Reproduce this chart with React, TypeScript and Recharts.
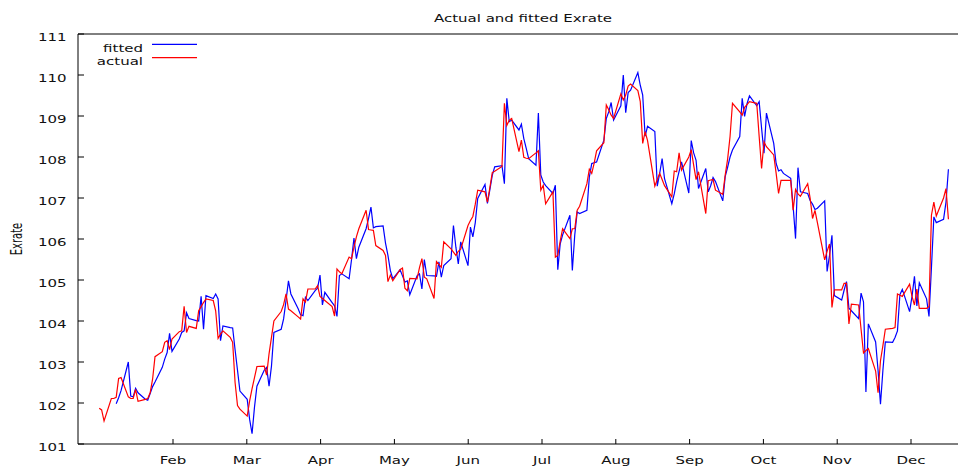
import React from 'react';
import { LineChart, Line, XAxis, YAxis } from 'recharts';

const FONT = '"DejaVu Sans", sans-serif';
const INK = '#111';

// month labels for the x ticks (Feb .. Dec)
const MONTHS = ['Feb', 'Mar', 'Apr', 'May', 'Jun', 'Jul', 'Aug', 'Sep', 'Oct', 'Nov', 'Dec'];
const Y_TICKS = [101, 102, 103, 104, 105, 106, 107, 108, 109, 110, 111];

// daily observations, one per trading day starting Wed 1 Jan (weekends skipped)
const ACTUAL = [
  101.87, 101.83, 101.56, 102.11, 102.11,
  102.14, 102.6, 102.62, 102.15, 102.11,
  102.11, 102.33, 102.04, 102.09, 102.11,
  102.25, 102.58, 103.13, 103.25, 103.48,
  103.52, 103.3, 103.56, 103.74, 103.76,
  104.36, 103.72, 103.87, 103.82, 104.25,
  104.35, 104.45, 104.54, 104.5, 104.25,
  103.58, 103.68, 103.76, 103.6, 103.48,
  102.5, 101.94, 101.85, 101.68, 102.05,
  102.35, 102.62, 102.89, 102.9, 102.68,
  103.2, 103.6, 104.0, 104.23, 104.4,
  104.66, 104.29, 104.25, 104.1, 104.05,
  104.54, 104.46, 104.78, 104.78, 104.86,
  104.6, 104.55, 104.5, 104.35, 104.12,
  105.27, 105.2, 105.15, 105.56, 105.52,
  105.8, 106.05, 106.25, 106.7, 106.23,
  106.22, 106.21, 105.84, 105.72, 105.6,
  104.96, 105.12, 104.98, 105.25, 105.29,
  104.8, 104.74, 105.04, 105.03, 105.3,
  105.52, 105.07, 105.03, 104.55, 105.45,
  105.38, 105.31, 105.93, 105.76, 105.68,
  105.6, 105.7, 105.75, 106.33, 106.45,
  106.55, 106.85, 107.19, 107.15, 106.9,
  107.25, 107.62, 107.65, 107.77, 109.31,
  108.77, 108.9, 108.94, 108.13, 108.41,
  107.99, 107.97, 107.96, 108.1, 108.15,
  107.19, 107.31, 106.86, 107.15, 105.56,
  105.6, 105.95, 106.25, 106.01, 106.25,
  106.25, 106.7, 106.8, 107.35, 107.7,
  107.6, 107.85, 108.15, 108.35, 109.27,
  109.15, 109.02, 108.94, 109.54, 109.39,
  109.51, 109.73, 109.78, 109.62, 109.35,
  108.33, 108.62, 108.4, 107.29, 107.45,
  107.6, 107.45, 107.3, 107.03, 107.66,
  107.64, 108.1, 107.68, 108.0, 108.18,
  107.8, 107.45, 107.64, 106.62, 107.42,
  107.44, 107.45, 107.19, 107.09, 107.56,
  107.95, 108.5, 109.31, 109.1, 109.02,
  109.21, 109.28, 109.35, 109.31, 108.5,
  107.72, 108.37, 108.25, 108.05, 107.6,
  107.11, 107.43, 107.43, 107.43, 106.7,
  107.21, 107.1, 107.04, 107.35, 107.0,
  106.5, 106.7, 106.4, 105.49, 105.7,
  105.88, 104.33, 104.76, 104.76, 104.92,
  104.92, 103.93, 104.41, 104.39, 103.8,
  103.22, 103.28, 103.33, 102.78, 102.25,
  103.03, 103.4, 103.8, 103.82, 103.84,
  104.66, 104.63, 104.6, 104.9, 104.6,
  104.39, 104.78, 104.31, 104.31, 104.35,
  106.58, 106.9, 106.56, 107.0, 107.23,
  106.48,
];

// model fit; the first week has no fitted value
const FITTED: (number | null)[] = [
  null, null, null, null, null,
  101.98, 102.13, 102.3, 103.0, 102.17,
  102.15, 102.36, 102.25, 102.09, 102.07,
  102.23, 102.4, 102.51, 102.87, 103.07,
  103.23, 103.7, 103.26, 103.56, 103.72,
  103.76, 104.2, 104.06, 104.01, 104.0,
  104.6, 103.8, 104.62, 104.55, 104.66,
  104.54, 103.52, 103.88, 103.84, 103.83,
  103.3, 102.8, 102.29, 102.09, 101.6,
  101.25, 101.9, 102.41, 102.8, 102.87,
  102.41, 102.9, 103.72, 103.8, 104.05,
  104.5, 104.98, 104.66, 104.3, 104.15,
  104.13, 104.58, 104.5, 104.74, 104.8,
  105.12, 104.39, 104.7, 104.45, 104.37,
  104.11, 105.11, 105.15, 105.03, 105.5,
  106.02, 105.52, 105.8, 106.25, 106.5,
  106.78, 106.27, 106.3, 106.32, 105.9,
  105.6, 105.23, 105.03, 105.25, 105.1,
  104.95, 104.98, 104.64, 105.1, 105.15,
  104.78, 105.5, 105.11, 105.1, 105.09,
  105.44, 105.07, 105.35, 105.52, 106.33,
  105.8, 105.39, 105.93, 105.35, 106.29,
  106.05, 106.4, 106.99, 107.33, 106.87,
  107.2, 107.55, 107.76, 107.79, 107.35,
  109.43, 108.86, 108.9, 108.66, 108.8,
  108.45, 108.21, 107.96, 107.8, 109.07,
  107.56, 107.39, 107.3, 107.11, 107.31,
  105.25, 105.88, 106.1, 106.58, 105.23,
  106.1, 106.66, 106.62, 106.7, 107.51,
  107.84, 107.86, 107.88, 108.41, 108.94,
  109.1, 109.33, 108.9, 109.25, 110.0,
  109.08, 109.57, 109.63, 110.06, 109.75,
  109.51, 108.51, 108.75, 108.62, 107.29,
  107.6, 107.96, 107.47, 106.86, 107.1,
  107.4, 107.65, 107.88, 107.12, 108.4,
  108.1, 107.92, 107.23, 107.72, 107.15,
  107.3, 107.5, 107.4, 106.93, 107.52,
  107.75, 108.0, 108.17, 108.5, 109.43,
  108.99, 109.3, 109.49, 109.25, 109.35,
  108.7, 108.09, 109.07, 108.33, 107.84,
  107.66, 107.69, 107.6, 107.48, 106.8,
  106.01, 107.74, 107.15, 107.11, 106.94,
  106.85, 106.72, 106.75, 106.93, 105.21,
  105.6, 106.09, 104.62, 104.51, 104.75,
  104.96, 104.31, 104.25, 104.06, 104.68,
  104.47, 102.27, 103.93, 103.49, 102.8,
  101.97, 102.8, 103.49, 103.48, 103.6,
  103.76, 104.64, 104.77, 104.23, 104.6,
  105.09, 104.37, 104.93, 104.54, 104.11,
  105.3, 106.54, 106.4, 106.48, 106.9,
  107.7,
];

// day-of-year for each observation: Mon..Fri only
const DAYS: number[] = [];
let day = 0;
for (let i = 0; i < ACTUAL.length; i++) {
  DAYS.push(day);
  day += day % 7 === 2 ? 3 : 1;
}

const chartData = DAYS.map((d, i) => ({ day: d, actual: ACTUAL[i], fitted: FITTED[i] }));

// month ticks sit at equal twelfths of the year
const MONTH_TICKS = MONTHS.map((_, i) => ((i + 1) * 365) / 12);
const X_DOMAIN: [number, number] = [-8.74, 353.95];

// gnuplot-like wide lettering: 10px glyphs stretched horizontally
const StretchText = ({ x, y, anchor, children }: any) => (
  <text
    transform={`translate(${x},${y}) scale(1.5,1)`}
    textAnchor={anchor}
    fontSize={10}
    fontFamily={FONT}
    fill={INK}
  >
    {children}
  </text>
);

const MonthTick = ({ x, y, payload }: any) => {
  const idx = MONTH_TICKS.findIndex((t) => Math.abs(t - payload.value) < 0.01);
  return (
    <StretchText x={x} y={y + 25} anchor="middle">
      {idx >= 0 ? MONTHS[idx] : ''}
    </StretchText>
  );
};

const ValueTick = ({ x, y, payload }: any) => (
  <StretchText x={x - 17.5} y={y + 7.3} anchor="end">
    {payload.value}
  </StretchText>
);

const axisStroke = { stroke: '#000', strokeWidth: 1 };

export default function App() {
  return (
    <div style={{ position: 'absolute', left: 0, top: 0, width: 958, height: 466, background: '#fff' }}>
      <LineChart
        width={958}
        height={466}
        data={chartData}
        margin={{ top: 33, right: 0, bottom: 0, left: 0 }}
      >
        <XAxis
          type="number"
          dataKey="day"
          domain={X_DOMAIN}
          allowDataOverflow
          ticks={MONTH_TICKS}
          interval={0}
          height={22}
          tickSize={-5}
          tickMargin={0}
          axisLine={axisStroke}
          tickLine={axisStroke}
          tick={<MonthTick />}
        />
        <XAxis
          xAxisId="top"
          orientation="top"
          type="number"
          dataKey="day"
          domain={X_DOMAIN}
          allowDataOverflow
          ticks={MONTH_TICKS}
          interval={0}
          height={1}
          tickSize={-5}
          axisLine={axisStroke}
          tickLine={axisStroke}
          tick={false}
        />
        <YAxis
          type="number"
          domain={[101, 111]}
          allowDataOverflow
          ticks={Y_TICKS}
          interval={0}
          width={78}
          tickSize={-6}
          tickMargin={0}
          axisLine={axisStroke}
          tickLine={axisStroke}
          tick={<ValueTick />}
        />
        <Line
          type="linear"
          dataKey="fitted"
          stroke="#0000ff"
          strokeWidth={1.2}
          dot={false}
          isAnimationActive={false}
        />
        <Line
          type="linear"
          dataKey="actual"
          stroke="#ff0000"
          strokeWidth={1.2}
          dot={false}
          isAnimationActive={false}
        />
      </LineChart>

      {/* title, key and axis label */}
      <svg
        width={958}
        height={466}
        style={{ position: 'absolute', left: 0, top: 0, pointerEvents: 'none' }}
      >
        <StretchText x={523} y={22.3} anchor="middle">
          Actual and fitted Exrate
        </StretchText>
        <StretchText x={143} y={51.7} anchor="end">
          fitted
        </StretchText>
        <line x1={152} y1={44.3} x2={197} y2={44.3} stroke="#0000ff" strokeWidth={1.2} />
        <StretchText x={143} y={65} anchor="end">
          actual
        </StretchText>
        <line x1={152} y1={57.7} x2={197} y2={57.7} stroke="#ff0000" strokeWidth={1.2} />
        <text
          transform="translate(22,239) scale(1.5,1) rotate(-90)"
          textAnchor="middle"
          fontSize={10}
          fontFamily={FONT}
          fill={INK}
        >
          Exrate
        </text>
      </svg>
    </div>
  );
}
